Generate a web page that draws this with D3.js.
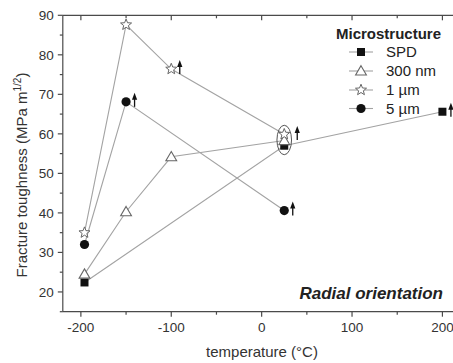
<!DOCTYPE html>
<html>
<head>
<meta charset="utf-8">
<script src="https://cdn.jsdelivr.net/npm/d3@7"></script>
<style>
  html, body { margin: 0; padding: 0; background: #fff; }
  svg { display: block; font-family: "Liberation Sans", Arial, sans-serif; }
</style>
</head>
<body>
<svg id="chart" width="453" height="363"></svg>
<script>
// Test temperatures (°C) per microstructure and measured fracture toughness (MPa m^1/2)
const seriesNames = ["SPD", "300 nm", "1 µm", "5 µm"];
const tempSPD   = [-196, 25, 200];
const kSPD      = [22.4, 57.0, 65.6];
const temp300nm = [-196, -150, -100, 25];
const k300nm    = [24.5, 40.3, 54.2, 58.3];
const temp1um   = [-196, -150, -100, 25];
const k1um      = [35.0, 87.6, 76.4, 59.9];
const temp5um   = [-196, -150, 25];
const k5um      = [32.0, 68.1, 40.6];

// Points that are lower bounds (specimen did not break): [series, temperature]
const lowerBounds = [["1 µm", -100], ["5 µm", -150], ["5 µm", 25], ["SPD", 200]];
// Room-temperature cluster that is grouped together (also a lower bound)
const clusterTemp = 25;
const clusterSeries = ["SPD", "300 nm", "1 µm"];

const xTicks = [-200, -100, 0, 100, 200];
const xMinorTicks = [-150, -50, 50, 150];
const yTicks = [20, 30, 40, 50, 60, 70, 80, 90];
const yMinorTicks = [15, 25, 35, 45, 55, 65, 75, 85];

const series = [
  { name: seriesNames[0], t: tempSPD,   k: kSPD,   symbol: "square" },
  { name: seriesNames[1], t: temp300nm, k: k300nm, symbol: "triangle" },
  { name: seriesNames[2], t: temp1um,   k: k1um,   symbol: "star" },
  { name: seriesNames[3], t: temp5um,   k: k5um,   symbol: "circle" }
];

const svg = d3.select("#chart");
const x = d3.scaleLinear().domain([-220, 220]).range([62.8, 460.5]);
const y = d3.scaleLinear().domain([15, 90]).range([311.7, 15.3]);

const axisColor = "#4a4a4a";
const textColor = "#333";
const lineColor = "#a3a3a3";

// ---- connecting lines ----
const lineGen = d3.line().x(d => x(d[0])).y(d => y(d[1]));
series.forEach(s => {
  svg.append("path")
    .attr("d", lineGen(s.t.map((t, i) => [t, s.k[i]])))
    .attr("fill", "none")
    .attr("stroke", lineColor)
    .attr("stroke-width", 1.1);
});

// ---- symbols ----
function drawSymbol(g, type, cx, cy) {
  if (type === "square") {
    g.append("rect").attr("x", cx - 4).attr("y", cy - 4).attr("width", 8).attr("height", 8)
      .attr("fill", "#111");
  } else if (type === "circle") {
    g.append("circle").attr("cx", cx).attr("cy", cy).attr("r", 4.6).attr("fill", "#111");
  } else if (type === "triangle") {
    g.append("path")
      .attr("d", `M${cx},${cy - 5.3}L${cx + 5.4},${cy + 4}L${cx - 5.4},${cy + 4}Z`)
      .attr("fill", "#fff").attr("stroke", "#666").attr("stroke-width", 1.1);
  } else if (type === "star") {
    const pts = [];
    for (let i = 0; i < 10; i++) {
      const r = i % 2 === 0 ? 5.8 : 2.5;
      const a = -Math.PI / 2 + i * Math.PI / 5;
      pts.push([cx + r * Math.cos(a), cy + r * Math.sin(a)]);
    }
    g.append("path").attr("d", "M" + pts.map(p => p.join(",")).join("L") + "Z")
      .attr("fill", "#fff").attr("stroke", "#666").attr("stroke-width", 1);
  }
}

const marks = svg.append("g");
series.forEach(s => {
  s.t.forEach((t, i) => drawSymbol(marks, s.symbol, x(t), y(s.k[i])));
});

// ---- lower-bound arrows ----
function arrow(ax, yBottom) {
  const g = svg.append("g");
  g.append("line").attr("x1", ax).attr("x2", ax).attr("y1", yBottom).attr("y2", yBottom - 8)
    .attr("stroke", "#111").attr("stroke-width", 1.3);
  g.append("path")
    .attr("d", `M${ax},${yBottom - 14}L${ax + 2.6},${yBottom - 7}L${ax - 2.6},${yBottom - 7}Z`)
    .attr("fill", "#111");
}
lowerBounds.forEach(([name, t]) => {
  const s = series.find(d => d.name === name);
  const k = s.k[s.t.indexOf(t)];
  arrow(x(t) + 8.5, y(k) + 5);
});

// ---- ellipse around the room-temperature cluster ----
const clusterVals = clusterSeries.map(n => {
  const s = series.find(d => d.name === n);
  return s.k[s.t.indexOf(clusterTemp)];
});
const cyTop = y(d3.max(clusterVals)), cyBot = y(d3.min(clusterVals));
const ecx = x(clusterTemp), ecy = (cyTop + cyBot) / 2;
const ery = (cyBot - cyTop) / 2 + 9;
svg.append("ellipse").attr("cx", ecx).attr("cy", ecy).attr("rx", 7.3).attr("ry", ery)
  .attr("fill", "none").attr("stroke", "#555").attr("stroke-width", 1);
arrow(ecx + 13, ecy);

// ---- axes ----
const plotLeft = x(-220), plotRight = 453, plotTop = y(90), plotBottom = y(15);
const ax = svg.append("g").attr("stroke", axisColor).attr("stroke-width", 1.2);
ax.append("line").attr("x1", plotLeft).attr("x2", plotRight).attr("y1", plotBottom).attr("y2", plotBottom);
ax.append("line").attr("x1", plotLeft).attr("x2", plotRight).attr("y1", plotTop).attr("y2", plotTop);
ax.append("line").attr("x1", plotLeft).attr("x2", plotLeft).attr("y1", plotTop).attr("y2", plotBottom);

// bottom axis (ticks out) and mirrored top axis (ticks in)
xTicks.forEach(t => {
  ax.append("line").attr("x1", x(t)).attr("x2", x(t)).attr("y1", plotBottom).attr("y2", plotBottom + 5);
  ax.append("line").attr("x1", x(t)).attr("x2", x(t)).attr("y1", plotTop).attr("y2", plotTop + 5);
});
xMinorTicks.forEach(t => {
  ax.append("line").attr("x1", x(t)).attr("x2", x(t)).attr("y1", plotBottom).attr("y2", plotBottom + 3);
  ax.append("line").attr("x1", x(t)).attr("x2", x(t)).attr("y1", plotTop).attr("y2", plotTop + 3);
});
yTicks.forEach(v => {
  ax.append("line").attr("x1", plotLeft - 5).attr("x2", plotLeft).attr("y1", y(v)).attr("y2", y(v));
});
yMinorTicks.forEach(v => {
  ax.append("line").attr("x1", plotLeft - 3).attr("x2", plotLeft).attr("y1", y(v)).attr("y2", y(v));
});

svg.append("g").selectAll("text").data(xTicks).join("text")
  .attr("x", d => x(d)).attr("y", plotBottom + 20)
  .attr("text-anchor", "middle").attr("font-size", 13.5).attr("fill", textColor)
  .text(d => d);
svg.append("g").selectAll("text").data(yTicks).join("text")
  .attr("x", plotLeft - 9).attr("y", d => y(d) + 4.8)
  .attr("text-anchor", "end").attr("font-size", 13.5).attr("fill", textColor)
  .text(d => d);

// axis titles
svg.append("text").attr("x", 262).attr("y", 357).attr("text-anchor", "middle")
  .attr("font-size", 15).attr("fill", textColor).text("temperature (°C)");
const yl = svg.append("text")
  .attr("transform", "translate(26.5,175) rotate(-90)")
  .attr("text-anchor", "middle").attr("font-size", 15).attr("fill", textColor);
yl.append("tspan").text("Fracture toughness (MPa m");
yl.append("tspan").attr("dy", -6).attr("font-size", 10).text("1/2");
yl.append("tspan").attr("dy", 6).text(")");

// ---- legend ----
const lg = svg.append("g");
lg.append("text").attr("x", 336).attr("y", 38.5).attr("font-size", 15).attr("font-weight", "bold")
  .attr("fill", "#222").text("Microstructure");
const legendRows = [52, 71, 90, 108.5];
series.forEach((s, i) => {
  const ly = legendRows[i];
  lg.append("line").attr("x1", 349).attr("x2", 373).attr("y1", ly).attr("y2", ly)
    .attr("stroke", lineColor).attr("stroke-width", 1.1);
  drawSymbol(lg, s.symbol, 361, ly);
  lg.append("text").attr("x", 386).attr("y", ly + 5.3).attr("font-size", 15)
    .attr("fill", "#222").text(s.name);
});

// annotation
svg.append("text").attr("x", 443).attr("y", 299).attr("text-anchor", "end")
  .attr("font-size", 17).attr("font-weight", "bold").attr("font-style", "italic")
  .attr("fill", "#222").text("Radial orientation");
</script>
</body>
</html>
